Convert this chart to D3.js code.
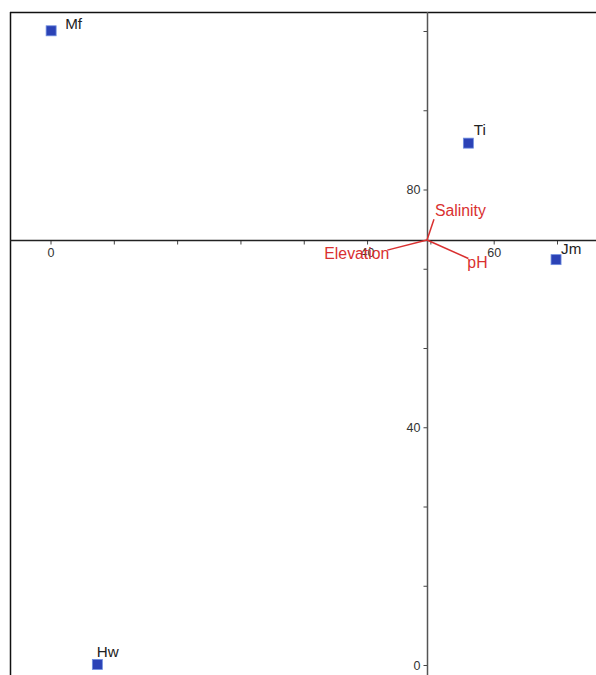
<!DOCTYPE html>
<html><head><meta charset="utf-8">
<script src="https://cdn.jsdelivr.net/npm/d3@7/dist/d3.min.js"></script>
<style>
html,body{margin:0;padding:0;background:#fff;}
svg{display:block;font-family:"Liberation Sans",Arial,sans-serif;}
</style></head>
<body><svg id="chart" width="596" height="675"></svg>
<script>
// ---- data ----
const siteNames = ["Mf", "Ti", "Jm", "Hw"];
const siteX = [-9.9, 56.0, 69.85, -2.6];
const siteY = [106.7, 87.8, 68.2, 0.1];

const varNames = ["Salinity", "Elevation", "pH"];
const varX = [50.57, 43.2, 56.0];
const varY = [75.0, 69.8, 68.4];

const xTickValues = [-10, 0, 10, 20, 30, 40, 50, 60, 70];
const xTickLabels = ["0", "", "", "", "", "40", "", "60", ""];
const yTickValues = [0, 40/3, 80/3, 40, 160/3, 200/3, 80, 280/3, 320/3];
const yTickLabels = ["0", "", "", "40", "", "", "80", "", ""];
const originX = 49.47, originY = 71.5;

// ---- drawing ----
const W = 596, H = 675;
const svg = d3.select("#chart");
const x = d3.scaleLinear().domain([-10, 70]).range([50.5, 557]);
const y = d3.scaleLinear().domain([0, 80]).range([665, 189.5]);

// frame
svg.append("line").attr("x1", 10).attr("x2", W).attr("y1", 12.5).attr("y2", 12.5)
  .attr("stroke", "#111").attr("stroke-width", 1.5);
svg.append("line").attr("x1", 10.5).attr("x2", 10.5).attr("y1", 12).attr("y2", H)
  .attr("stroke", "#111").attr("stroke-width", 1.5);

const axisX = Math.round(x(originX)) + 0.5;
const axisY = Math.round(y(originY)) + 0.5;

// x axis
const xAxis = d3.axisBottom(x).tickValues(xTickValues)
  .tickFormat((d, i) => xTickLabels[i]).tickSize(4).tickPadding(4).tickSizeOuter(0);
const gx = svg.append("g").attr("transform", `translate(0,${axisY})`).call(xAxis);
gx.select(".domain").remove();
gx.selectAll(".tick line").attr("stroke", "#444");
gx.selectAll(".tick text").attr("fill", "#333").attr("font-size", 12.5)
  .attr("font-family", "Liberation Sans, Arial, sans-serif");
svg.append("line").attr("x1", 10).attr("x2", W).attr("y1", axisY).attr("y2", axisY)
  .attr("stroke", "#222").attr("stroke-width", 1.3);

// y axis
const yAxis = d3.axisLeft(y).tickValues(yTickValues)
  .tickFormat((d, i) => yTickLabels[i]).tickSize(4).tickPadding(3).tickSizeOuter(0);
const gy = svg.append("g").attr("transform", `translate(${axisX},0)`).call(yAxis);
gy.select(".domain").remove();
gy.selectAll(".tick line").attr("stroke", "#444");
gy.selectAll(".tick text").attr("fill", "#333").attr("font-size", 12.5)
  .attr("font-family", "Liberation Sans, Arial, sans-serif");
svg.append("line").attr("x1", axisX).attr("x2", axisX).attr("y1", 12).attr("y2", H)
  .attr("stroke", "#555").attr("stroke-width", 1.5);

// biplot vectors
const red = "#d93030";
const varLabelStyle = [
  {dx: 1, dy: -3, anchor: "start"},
  {dx: 2, dy: 9, anchor: "end"},
  {dx: -1, dy: 10, anchor: "start"}
];
const vg = svg.append("g");
varNames.forEach((n, i) => {
  vg.append("line")
    .attr("x1", x(originX)).attr("y1", y(originY))
    .attr("x2", x(varX[i])).attr("y2", y(varY[i]))
    .attr("stroke", red).attr("stroke-width", 1.5);
  vg.append("text")
    .attr("x", x(varX[i]) + varLabelStyle[i].dx)
    .attr("y", y(varY[i]) + varLabelStyle[i].dy)
    .attr("text-anchor", varLabelStyle[i].anchor)
    .attr("fill", red).attr("font-size", 15.8)
    .text(n);
});

// sites
const siteLabelStyle = [
  {dx: 14, dy: -1.5},
  {dx: 5.5, dy: -8},
  {dx: 5, dy: -5.5},
  {dx: -0.5, dy: -7.5}
];
const sg = svg.append("g");
siteNames.forEach((n, i) => {
  const cx = x(siteX[i]), cy = y(siteY[i]);
  sg.append("rect")
    .attr("x", cx - 5).attr("y", cy - 5).attr("width", 10).attr("height", 10)
    .attr("fill", "#2b42b6").attr("stroke", "#6f8ee0").attr("stroke-width", 0.8);
  sg.append("text")
    .attr("x", cx + siteLabelStyle[i].dx).attr("y", cy + siteLabelStyle[i].dy)
    .attr("fill", "#222").attr("font-size", 15.2)
    .text(n);
});
</script></body></html>
